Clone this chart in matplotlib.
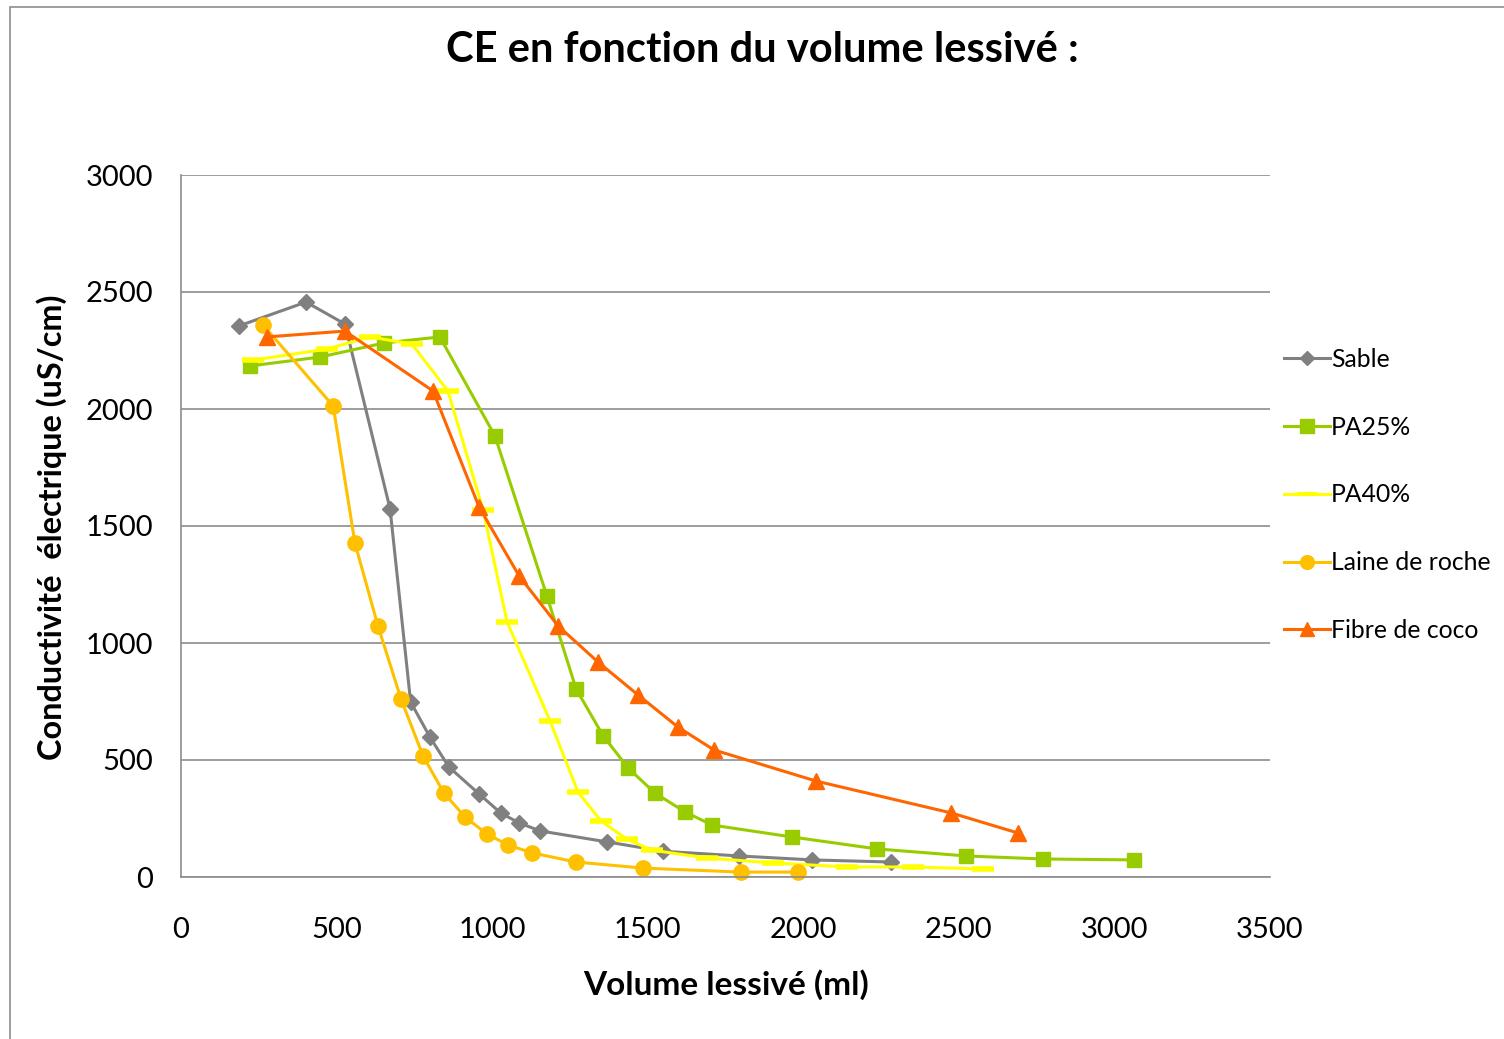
import matplotlib
matplotlib.use("Agg")
import matplotlib.pyplot as plt
from matplotlib.patches import Rectangle
from matplotlib.lines import Line2D

plt.rcParams['font.family'] = ['Lato', 'DejaVu Sans']

sable_x = [186, 402, 527, 672, 738, 800, 861, 958, 1028, 1087, 1154, 1369, 1550, 1793, 2028, 2282]
sable_y = [2355, 2457, 2363, 1573, 748, 598, 470, 355, 273, 231, 197, 150, 110, 90, 73, 64]

pa25_x = [222, 447, 652, 832, 1009, 1176, 1270, 1357, 1437, 1523, 1620, 1707, 1964, 2237, 2523, 2770, 3063]
pa25_y = [2184, 2222, 2282, 2308, 1885, 1201, 803, 603, 466, 359, 278, 222, 171, 120, 90, 77, 73]

pa40_x = [231, 469, 607, 742, 858, 971, 1048, 1186, 1276, 1350, 1433, 1513, 1690, 1903, 2140, 2353, 2578]
pa40_y = [2209, 2256, 2308, 2278, 2077, 1568, 1090, 667, 363, 239, 162, 115, 81, 60, 43, 43, 34]

laine_x = [264, 489, 559, 633, 707, 778, 845, 913, 983, 1051, 1128, 1270, 1485, 1800, 1983]
laine_y = [2359, 2013, 1427, 1073, 761, 517, 359, 256, 184, 137, 103, 64, 38, 21, 21]

coco_x = [276, 527, 810, 958, 1087, 1212, 1340, 1469, 1597, 1713, 2041, 2475, 2690]
coco_y = [2308, 2333, 2077, 1581, 1286, 1073, 919, 778, 641, 543, 410, 274, 188]

labels = ["Sable", "PA25%", "PA40%", "Laine de roche", "Fibre de coco"]
x_ticks = [0, 500, 1000, 1500, 2000, 2500, 3000, 3500]
y_ticks = [0, 500, 1000, 1500, 2000, 2500, 3000]

fig = plt.figure(figsize=(15.04, 10.39), dpi=100)
fig.patches.append(Rectangle((10/1504, -0.01), 1.1, 1 - 7/1039 + 0.01, transform=fig.transFigure,
                             fill=False, edgecolor='#8c8c8c', lw=1.2))
ax = fig.add_axes([181/1504, 1 - 877/1039, (1270-181)/1504, (877-175)/1039])

series = [
    (sable_x, sable_y, '#808080', 'D', 8, {}),
    (pa25_x, pa25_y, '#99cc00', 's', 10.5, {}),
    (pa40_x, pa40_y, '#ffff00', '_', 16, {'markeredgewidth': 4}),
    (laine_x, laine_y, '#ffc000', 'o', 11, {}),
    (coco_x, coco_y, '#ff6600', '^', 11, {}),
]
handles = []
for (xs, ys, c, m, ms, kw), lab in zip(series, labels):
    ax.plot(xs, ys, color=c, lw=2.2, marker=m, markersize=ms, markerfacecolor=c,
            markeredgecolor=c, label=lab, clip_on=False, **kw)
    handles.append(Line2D([], [], color=c, lw=2.2, marker=m, markersize=ms*0.9,
                          markerfacecolor=c, markeredgecolor=c,
                          **({'markeredgewidth': 3} if m == '_' else {})))

ax.set_xlim(0, 3500)
ax.set_ylim(0, 3000)
ax.set_xticks(x_ticks)
ax.set_yticks(y_ticks)
ax.yaxis.grid(True, color='#8c8c8c', lw=1.2)
ax.set_axisbelow(True)
for s in ['top', 'right']:
    ax.spines[s].set_visible(False)
for s in ['left', 'bottom']:
    ax.spines[s].set_color('#8c8c8c')
    ax.spines[s].set_linewidth(1.2)
ax.tick_params(axis='both', length=0, labelsize=21, colors='black')
ax.tick_params(axis='x', pad=29)
ax.tick_params(axis='y', pad=20)

fig.text(762/1504, 1 - 50/1039, "CE en fonction du volume lessivé :", ha='center', va='center',
         fontsize=30, fontweight='bold')
fig.text(726/1504, 1 - 985/1039, "Volume lessivé (ml)", ha='center', va='center',
         fontsize=24, fontweight='bold')
fig.text(52/1504, 1 - 527/1039, "Conductivité  électrique (uS/cm)", ha='center', va='center',
         fontsize=23.3, fontweight='bold', rotation=90)

fig.legend(handles, labels, loc='upper left', bbox_to_anchor=(1284/1504, 1 - 348/1039),
           frameon=False, fontsize=17.8, labelspacing=1.81, handlelength=1.85,
           handletextpad=0.05, borderpad=0, borderaxespad=0)

fig.savefig("out.png", dpi=100)
